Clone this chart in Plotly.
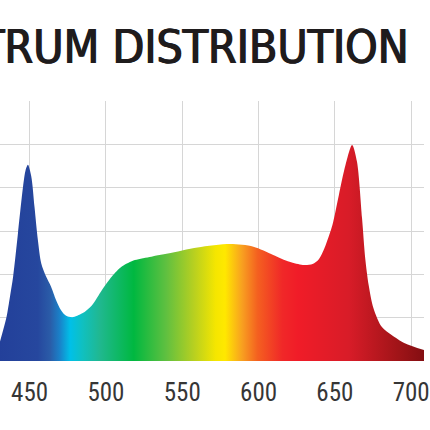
import plotly.graph_objects as go

# Spectrum data (wavelength nm, relative intensity in grid units)
wavelength = [430.6, 434.9, 437.1, 439.2, 442.4, 445.7, 447.4, 448.9, 451.1, 453.2,
              455.4, 457.6, 460.8, 464.0, 467.3, 470.5, 473.7, 478.0, 484.5, 490.9,
              497.4, 503.9, 510.4, 519.0, 529.8, 540.6, 560.0, 581.5, 596.6, 609.6,
              620.3, 629.0, 635.4, 639.5, 644.0, 648.4, 652.6, 657.0, 661.3, 664.5,
              667.8, 669.9, 672.1, 675.3, 680.7, 687.2, 695.8, 708.7]
intensity = [0.45, 1.02, 1.48, 1.95, 2.96, 4.03, 4.41, 4.53, 4.26, 3.56,
             2.80, 2.26, 1.95, 1.72, 1.41, 1.18, 1.05, 1.01, 1.10, 1.29,
             1.64, 1.95, 2.18, 2.33, 2.41, 2.48, 2.62, 2.70, 2.64, 2.45,
             2.29, 2.22, 2.24, 2.35, 2.68, 3.14, 3.83, 4.53, 4.99, 4.60,
             3.30, 2.37, 1.76, 1.22, 0.79, 0.60, 0.41, 0.25]

tick_values = [450, 500, 550, 600, 650, 700]
tick_labels = ["450", "500", "550", "600", "650", "700"]
title_text = "SPECTRUM DISTRIBUTION"

# spectral gradient stops (wavelength nm, colour)
grad_nm = [430.6, 455.0, 463.0, 469.0, 476.0, 484.0, 495.0, 517.0, 538.0, 556.0,
           570.0, 576.0, 587.0, 597.0, 613.0, 623.0, 656.0, 688.0, 708.7]
grad_col = ["#23409a", "#26479e", "#2a5ca8", "#1a80c8", "#00c0e8", "#10c0c0",
            "#20b890", "#00b840", "#60c040", "#b8d020", "#f5e600", "#ffe800",
            "#f8a020", "#f46020", "#f02828", "#f01c28", "#d81c28", "#a01418", "#7c0c10"]

x0, x1 = 430.6, 708.4
span = grad_nm[-1] - grad_nm[0]
colorscale = [[(n - grad_nm[0]) / span, c] for n, c in zip(grad_nm, grad_col)]

fig = go.Figure()
fig.add_trace(go.Scatter(
    x=wavelength, y=intensity, mode="lines",
    line=dict(width=0, shape="spline", smoothing=0.8, color="rgba(0,0,0,0)"),
    fill="tozeroy",
    fillgradient=dict(type="horizontal", colorscale=colorscale,
                      start=grad_nm[0], stop=grad_nm[-1]),
    hoverinfo="skip", showlegend=False,
))

W, H = 430, 430
top, bottom = 101, 69
fig.update_layout(
    width=W, height=H,
    margin=dict(l=0, r=0, t=top, b=bottom, pad=0),
    paper_bgcolor="white", plot_bgcolor="white",
    xaxis=dict(range=[x0, x1], tickvals=tick_values, ticktext=tick_labels,
               showgrid=True, gridcolor="#d6d6d6", gridwidth=1,
               zeroline=False, showline=False, ticks="",
               ticklabelstandoff=14, ticklabeloverflow="allow",
               tickfont=dict(family="Liberation Sans Narrow, Arial Narrow, Roboto Condensed, Liberation Sans, Arial",
                             size=25, color="#363636")),
    yaxis=dict(range=[0, 6.005], dtick=1, showticklabels=False,
               showgrid=True, gridcolor="#d6d6d6", gridwidth=1,
               zeroline=False, showline=False, ticks=""),
    annotations=[dict(
        text=title_text, xref="paper", yref="paper",
        x=417 / W, y=(H - bottom - 47) / (H - top - bottom),
        xanchor="right", yanchor="middle", showarrow=False,
        font=dict(family="DejaVu Sans Condensed, DejaVu Sans", size=46,
                  color="#1f1c1d",
                  shadow="0.7px 0 0 #1f1c1d, -0.7px 0 0 #1f1c1d"),
    )],
)

fig.write_html("out.html", config={"displayModeBar": False},
               post_script="document.body.style.margin='0';document.body.style.padding='0';")
